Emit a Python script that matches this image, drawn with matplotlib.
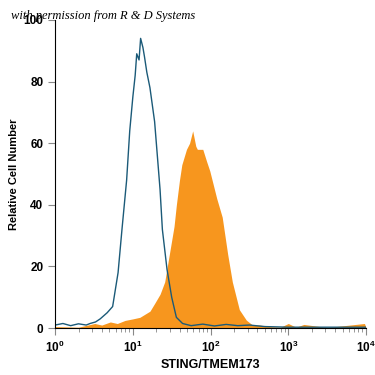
import numpy as np
import matplotlib
matplotlib.use('Agg')
import matplotlib.pyplot as plt

plt.rcParams['font.family'] = ['Liberation Sans', 'DejaVu Sans']
plt.rcParams['mathtext.fontset'] = 'custom'
plt.rcParams['mathtext.bf'] = 'Liberation Sans:bold'

# isotype control (blue outline): log10 intensity, % of max
blue_log = [0.00, 0.10, 0.20, 0.30, 0.40, 0.45, 0.52, 0.58, 0.67, 0.74, 0.81, 0.86,
            0.92, 0.96, 1.00, 1.03, 1.05, 1.08, 1.10, 1.13, 1.15, 1.18, 1.22,
            1.28, 1.35, 1.38, 1.44, 1.50, 1.56, 1.64, 1.75, 1.90, 2.05, 2.20,
            2.35, 2.50, 2.70, 3.00, 3.50, 4.00]
blue_cnt = [1.0, 1.5, 0.8, 1.4, 1.0, 1.5, 2.0, 3.0, 5.0, 7.0, 18, 32,
            48, 64, 75, 82, 89, 87, 94, 91, 88, 83, 78,
            67, 45, 32, 19, 10, 3.5, 1.5, 0.8, 1.3, 0.7, 1.2,
            0.8, 1.0, 0.5, 0.3, 0.3, 0.3]

# STING/TMEM173 stained cells (orange filled)
orange_log = [0.00, 0.30, 0.51, 0.60, 0.71, 0.80, 0.90, 1.00, 1.09, 1.22, 1.28,
              1.35, 1.41, 1.47, 1.53, 1.56, 1.60, 1.63, 1.69, 1.73, 1.77,
              1.81, 1.83, 1.90, 1.95, 1.99, 2.08, 2.15, 2.22, 2.28, 2.37,
              2.46, 2.54, 2.63, 2.76, 2.90, 3.00, 3.10, 3.20, 3.50, 3.98, 4.00]
orange_cnt = [0.5, 0.3, 1.5, 1.0, 2.0, 1.5, 2.5, 3.0, 3.5, 5.5, 8.0,
              11, 15, 24, 33, 40, 48, 53, 58, 60, 64,
              59, 58, 58, 54, 51, 42, 36, 24, 15, 6.0,
              2.6, 1.0, 1.0, 0.5, 0.3, 1.5, 0.3, 1.2, 0.2, 1.5, 0.2]

xticks = [1, 10, 100, 1000, 10000]
xtick_labels = [r'$\mathbf{10^{0}}$', r'$\mathbf{10^{1}}$', r'$\mathbf{10^{2}}$',
                r'$\mathbf{10^{3}}$', r'$\mathbf{10^{4}}$']
yticks = [0, 20, 40, 60, 80, 100]

fig = plt.figure(figsize=(3.75, 3.75), dpi=100)
ax = fig.add_axes([0.147, 0.125, 0.829, 0.822])

ox = np.power(10.0, orange_log)
bx = np.power(10.0, blue_log)
ax.fill_between(ox, 0, orange_cnt, color='#f7961e', linewidth=0)
ax.plot(bx, blue_cnt, color='#1b5a78', linewidth=1.0)

ax.set_xscale('log')
ax.set_xlim(1, 10000)
ax.set_ylim(0, 100)
ax.set_xticks(xticks)
ax.set_xticklabels(xtick_labels, fontsize=8.5)
ax.set_yticks(yticks)
ax.set_yticklabels([str(v) for v in yticks], fontsize=8.5, fontweight='bold')
ax.tick_params(axis='both', direction='out', length=5, width=0.8, color='#888888')
ax.tick_params(axis='x', which='minor', length=3, color='#888888')
ax.spines['top'].set_visible(False)
ax.spines['right'].set_visible(False)

ax.set_xlabel('STING/TMEM173', fontsize=9, fontweight='bold', labelpad=3)
ax.set_ylabel('Relative Cell Number', fontsize=8, fontweight='bold', labelpad=3)

fig.text(0.03, 0.948, 'with permission from R & D Systems', fontsize=9,
         style='italic', family='Liberation Serif')

fig.savefig('out.png', dpi=100)
